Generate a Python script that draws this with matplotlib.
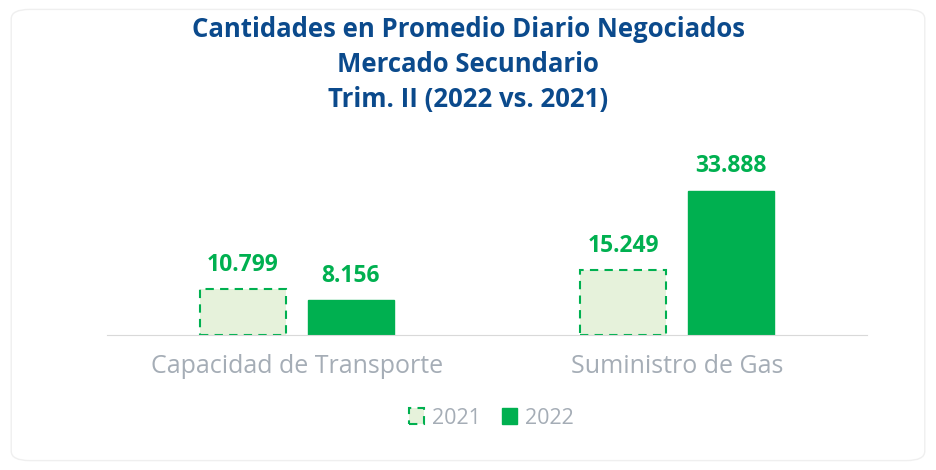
import matplotlib.pyplot as plt
import numpy as np
from matplotlib.patches import FancyBboxPatch

categories = ['Capacidad de Transporte', 'Suministro de Gas']
v2021 = [10.799, 15.249]
v2022 = [8.156, 33.888]
labels2021 = ['10.799', '15.249']
labels2022 = ['8.156', '33.888']

green = '#00b050'
light = '#e6f2db'
gray = '#a5adb6'
blue = '#0b4a8c'

plt.rcParams['font.family'] = ['Open Sans', 'DejaVu Sans']

fig = plt.figure(figsize=(9.36, 4.7), dpi=100)
frame = FancyBboxPatch((0.012, 0.02), 0.976, 0.96, boxstyle='round,pad=0,rounding_size=0.02',
                       transform=fig.transFigure, facecolor='white', edgecolor='#efefef', lw=1, zorder=-10)
fig.patches.append(frame)
ax = fig.add_axes([107/936, 135/470, 760/936, 185/470])
ax.set_facecolor('none')
ax.set_zorder(2)

x = np.arange(len(categories))
w = 0.226
off = 0.142
b1 = ax.bar(x - off, v2021, w, color=light, edgecolor=green, linestyle=(0, (4, 3)), linewidth=1.5, label='2021')
b2 = ax.bar(x + off, v2022, w, color=green, edgecolor=green, label='2022')

for rect, t in zip(list(b1) + list(b2), labels2021 + labels2022):
    ax.annotate(t, (rect.get_x() + rect.get_width() / 2, rect.get_height()), xytext=(0, 9),
                textcoords='offset points', ha='center', va='bottom', color=green,
                fontsize=16.5, fontweight='bold')

ax.set_xlim(-0.5, 1.5)
ax.set_ylim(0, 43.5)
ax.set_yticks([])
ax.set_xticks(x)
ax.set_xticklabels(categories, fontsize=18, color=gray)
ax.tick_params(axis='x', length=0, pad=14)
for s in ['top', 'right', 'left']:
    ax.spines[s].set_visible(False)
ax.spines['bottom'].set_color('#d9d9d9')

fig.text(0.5, 0.965, 'Cantidades en Promedio Diario Negociados\nMercado Secundario\nTrim. II (2022 vs. 2021)',
         ha='center', va='top', fontsize=18.5, fontweight='bold', color=blue, linespacing=1.38)

fig.legend(handles=[b1, b2], loc='center', bbox_to_anchor=(0.525, 1 - 418/470), ncol=2,
           frameon=False, fontsize=15.5, labelcolor=gray, handlelength=0.7, handleheight=0.7,
           handletextpad=0.35, columnspacing=1.0)

fig.savefig('out.png', dpi=100)
